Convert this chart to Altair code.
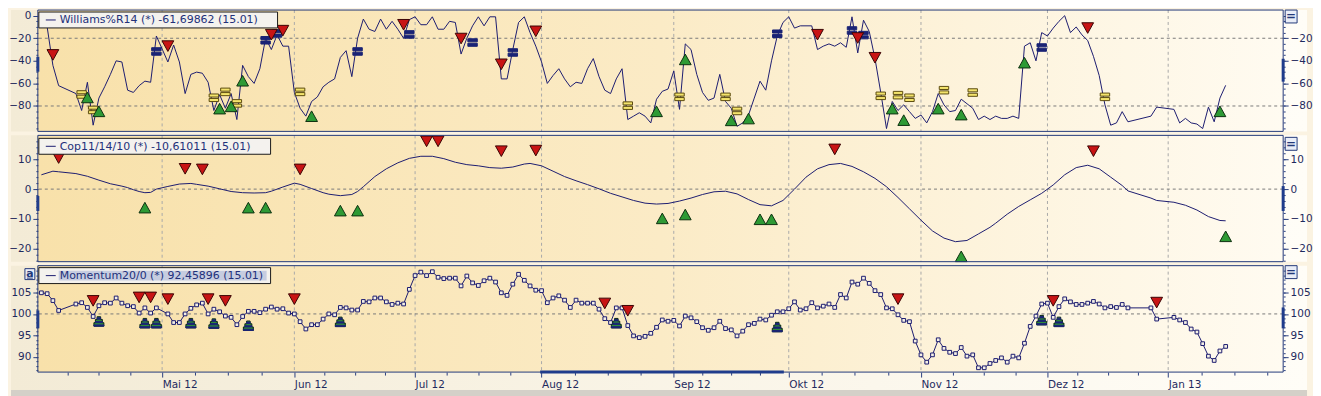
import altair as alt
import numpy as np
import pandas as pd

# ---------------- data ----------------
FIRST_DAY = "2012-04-02"
LAST_DAY = "2013-01-15"
CLOSED_DAYS = ["2012-04-06", "2012-04-09", "2012-05-01", "2012-12-24",
               "2012-12-25", "2012-12-26", "2012-12-31", "2013-01-01"]

# Williams %R 14 (one value per trading day)
williams = [
    -4, -10, -44, -62, -69, -84, -59, -97, -73, -63, -52, -40, -41, -66, -68, -62, -58, -59, -18,
    -41, -26, -41, -69, -52, -50, -51, -59, -84, -70, -82, -69, -92, -44, -54, -60, -47, -20, -30, -17, -27, -27,
    -68, -82, -89, -76, -72, -63, -59, -56, -37, -31, -54, -20, -3, -12, -14, -3, -12, -5, -12, -20, -3.5,
    -1, -8, -8, -1, -12, -12, -5, -6, -34, -20, -9, -1, -9, -1, -1, -56, -56, -30, -6, -1, -15, -27,
    -41, -60, -53, -47, -56, -63, -59, -60, -47, -38, -54, -66, -69, -56, -47, -92, -89, -86, -89, -95, -74, -67, -65,
    -49, -83, -25, -30, -52, -68, -75, -73, -52, -76, -82, -98, -95, -88, -73, -58, -66, -40, -18, -6,
    -1, -11, -9, -9, -9, -30, -27, -25, -27, -24, -28, -1, -33, -4, -14, -38, -68, -100, -76, -84, -79, -85, -91,
    -88, -95, -85, -69, -79, -85, -84, -74, -78, -82, -92, -89, -92, -89, -91, -91, -89, -91, -27, -24, -40, -15,
    -18, -11, -5, 0, -15, -10, -17, -22, -36, -53, -79, -97, -95, -85, -94, -89, -81,
    -83, -95, -91, -95, -96, -100, -81, -94, -73, -61.7,
]

# Momentum 20 (one value per trading day)
momentum = [
    104.9, 104.7, 103.1, 100.8, 102.3, 102.6, 101.5, 99.4, 101.9, 102.6, 102.5, 103.7, 102.5, 101.9, 101.7, 100.2, 101.4, 100.2, 101.4,
    100.0, 98.0, 98.0, 100.0, 101.3, 102.1, 102.5, 100.0, 101.1, 100.5, 99.5, 99.2, 97.5, 99.4, 100.6, 100.6, 100.3, 101.1, 101.6, 101.1, 101.2, 100.2,
    100.0, 98.2, 96.5, 97.5, 97.5, 98.8, 100.0, 99.8, 101.5, 101.4, 100.9, 100.9, 102.9, 102.8, 103.7, 103.7, 102.8, 102.2, 102.5, 102.3, 105.7,
    108.9, 109.7, 108.9, 109.8, 108.5, 108.2, 108.3, 108.3, 106.5, 108.8, 107.2, 106.6, 107.7, 108.3, 107.4, 104.9, 104.3, 106.9, 109.2, 107.8, 106.5, 105.5,
    105.4, 102.6, 103.7, 104.2, 103.2, 101.5, 103.2, 102.5, 102.5, 102.5, 101.1, 98.9, 98.0, 101.4, 101.4, 97.3, 94.9, 94.5, 94.8, 95.5, 96.9, 98.6, 98.3,
    98.5, 97.2, 99.5, 99.1, 98.2, 96.8, 96.2, 96.8, 98.3, 96.6, 96.3, 94.9, 96.0, 97.5, 97.8, 98.8, 98.6, 99.7, 100.5, 100.5,
    101.2, 102.8, 100.9, 101.2, 102.6, 101.4, 101.8, 102.3, 101.5, 104.5, 103.7, 107.4, 106.9, 108.3, 107.1, 105.4, 104.5, 101.4, 101.2, 99.8, 98.5, 98.2, 93.7,
    90.5, 88.8, 90.5, 94.0, 92.0, 91.1, 90.8, 92.2, 90.2, 90.5, 87.5, 87.5, 88.5, 89.2, 89.8, 88.8, 90.2, 89.8, 93.2, 97.1, 99.5, 102.3,
    102.5, 99.2, 101.7, 103.5, 102.8, 102.2, 102.2, 102.5, 102.9, 102.3, 101.4, 101.7, 101.5, 102.2, 101.4, 101.4, 98.8,
    99.2, 98.6, 98.0, 96.5, 95.8, 93.1, 90.2, 89.2, 91.4, 92.46,
]

# Coppock 11/14/10 (weekday number since 2 Apr 2012, value)
cop_day = [0, 2, 3, 6, 8, 10, 12, 14, 15, 16, 17, 18, 19, 20, 22, 24, 26, 27, 29, 31, 33, 35, 37, 39, 40, 42, 44, 45, 47, 49, 50,
           52, 54, 55, 56, 57, 58, 60, 62, 64, 66, 68, 70, 72, 74, 76, 78, 80, 82, 84, 85, 87, 89, 91, 93, 95, 97, 99, 101, 103,
           105, 107, 109, 111, 113, 115, 117, 119, 121, 123, 125, 127, 129, 131, 133, 135, 137, 139, 141, 143, 145, 147, 149,
           151, 153, 155, 157, 159, 161, 163, 165, 166, 168, 170, 172, 174, 176, 178, 180, 182, 184, 186, 188, 189, 193, 194,
           197, 199, 201, 203, 205, 206]
cop_val = [4.8, 6.0, 5.8, 5.2, 4.3, 3.0, 1.8, 1.0, 0.5, -0.2, -0.8, -1.2, -1.1, 0.0, 0.9, 1.7, 1.9, 1.6, 1.0, 0.1, -0.8, -1.2, -1.3, -1.2, -0.7, 0.7, 2.0, 1.6, 0.2, -1.2, -1.7,
           -2.2, -1.8, -0.8, 0.8, 2.5, 4.2, 6.8, 8.8, 10.3, 11.0, 11.0, 10.2, 9.0, 8.2, 7.8, 7.2, 7.0, 7.4, 8.4, 8.6, 7.8, 6.0, 4.2, 2.8, 1.5, 0.1, -1.4, -2.6, -3.8,
           -4.7, -5.0, -4.8, -4.0, -3.0, -1.8, -0.9, -0.7, -1.6, -3.5, -5.2, -5.6, -3.8, 0.0, 4.0, 6.8, 8.2, 8.6, 7.6, 5.8, 3.6, 0.8, -2.8,
           -6.6, -10.4, -14.0, -16.4, -17.6, -17.2, -15.0, -12.8, -11.4, -8.4, -5.8, -3.6, -1.4, 1.4, 4.8, 7.2, 8.0, 6.8, 4.0, 1.2, -0.6, -3.0, -3.8,
           -4.4, -5.4, -7.0, -9.2, -10.5, -10.61]

# signals (weekday number, plotted value)
w_sell_day = [2, 22, 40, 42, 63, 73, 80, 86, 135, 142, 145, 182]
w_sell_val = [-34.5, -26.7, -16.6, -13, -7.8, -20, -42.8, -13.6, -16.6, -19.5, -37, -10.7]
w_buy_day = [8, 10, 31, 33, 35, 47, 107, 112, 120, 123, 148, 150, 156, 160, 171, 205]
w_buy_val = [-72.7, -85, -82.6, -80.6, -57.9, -89.3, -85, -39, -93, -91.4, -82.6, -92.8, -82.6, -87.9, -41.9, -85]
w_blue_day = [20, 39, 41, 55, 64, 75, 82, 128, 141, 143, 174]
w_blue_val = [-31.7, -21.8, -15.7, -31.7, -16.6, -23.8, -32.6, -16, -13.1, -17.2, -28.2]
w_yel_day = [7, 9, 30, 32, 34, 45, 102, 111, 119, 121, 146, 149, 151, 157, 162, 185]
w_yel_val = [-69.8, -83.5, -72.7, -67.5, -77.7, -67.5, -79.7, -71.9, -71.9, -84.4, -71, -70.4, -72.7, -66, -68.1, -71.9]

c_sell_day = [3, 25, 28, 45, 67, 69, 80, 86, 138, 183]
c_sell_val = [10.5, 6.9, 6.7, 6.7, 16.1, 16.1, 12.8, 13, 13.4, 12.8]
c_buy_day = [18, 36, 39, 52, 55, 108, 112, 125, 127, 160, 206]
c_buy_val = [-6.3, -6.3, -6.3, -7.3, -7.3, -9.9, -8.6, -10.2, -10.2, -22.6, -15.9]

m_sell_day = [9, 17, 19, 22, 29, 32, 44, 98, 102, 149, 176, 194]
m_sell_val = [103.1, 103.9, 103.9, 103.5, 103.5, 103.1, 103.5, 102.5, 100.8, 103.5, 103.1, 102.7]
m_buy_day = [10, 18, 20, 26, 30, 36, 52, 100, 128, 174, 177]
m_buy_val = [98.2, 97.8, 97.8, 97.8, 97.7, 97.2, 98.1, 97.8, 96.9, 98.5, 98.1]

month_first = ["2012-04-01", "2012-05-01", "2012-06-01", "2012-07-01", "2012-08-01", "2012-09-01",
               "2012-10-01", "2012-11-01", "2012-12-01", "2013-01-01", "2013-02-01"]
month_label = ["", "Mai 12", "Jun 12", "Jul 12", "Aug 12", "Sep 12", "Okt 12", "Nov 12", "Dez 12", "Jan 13", ""]

legend_w = "Williams%R14 (*) -61,69862 (15.01)"
legend_c = "Cop11/14/10 (*) -10,61011 (15.01)"
legend_m = "Momentum20/0 (*) 92,45896 (15.01)"

# ---------------- helpers ----------------
def weekday_no(dates):
    d = np.array(pd.to_datetime(dates).values, dtype="datetime64[D]")
    return np.busday_count(np.datetime64(FIRST_DAY), d)

days = pd.bdate_range(FIRST_DAY, LAST_DAY)
days = days[~days.isin(pd.to_datetime(CLOSED_DAYS))]
pos = weekday_no(days)
assert len(pos) == len(williams) == len(momentum)

mstart = [int(v) for v in weekday_no(month_first)]
major = mstart[1:-1]
minor = []
for a, b in zip(mstart[:-1], mstart[1:]):
    for k in (1, 2, 3):
        minor.append(a + k * (b - a) / 4)

W = 1252
LEFT = 27
XDOM = [-0.62, 216.0]
FONT = "DejaVu Sans"
FS = 10.5
NAVY = "#1C1C70"
AXC = "#2A3F80"
LAB = "#1E2A5E"
THUMB = "#1F3C8C"
one = pd.DataFrame({"a": [0]})

TRI_DOWN = "M-1,-0.85L1,-0.85L0,0.95Z"
TRI_UP = "M0,-0.95L1,0.85L-1,0.85Z"
EQ = "M-1,-0.8L1,-0.8L1,-0.15L-1,-0.15Z M-1,0.15L1,0.15L1,0.8L-1,0.8Z"
STACK = ("M-0.35,-1L0.35,-1L0.35,-0.45L0.7,-0.45L0.7,0.2L1,0.2L1,0.9L-1,0.9L-1,0.2"
         "L-0.7,0.2L-0.7,-0.45L-0.35,-0.45Z")
STRIPES = "M-0.35,-0.8L0.35,-0.8L0.35,-0.5L-0.35,-0.5Z M-0.7,-0.05L0.7,-0.05L0.7,0.2L-0.7,0.2Z M-1,0.65L1,0.65L1,0.9L-1,0.9Z"


def X(axis=None):
    return alt.X("pos:Q", scale=alt.Scale(domain=XDOM, nice=False, zero=False), axis=axis)


def Y(dom, axis=None):
    return alt.Y("v:Q", scale=alt.Scale(domain=dom, nice=False, zero=False), axis=axis)


def markers(day, val, shape, fill, stroke, size, dom):
    df = pd.DataFrame({"pos": day, "v": val})
    return alt.Chart(df).mark_point(shape=shape, filled=True, fill=fill, stroke=stroke,
                                    strokeWidth=1, size=size, opacity=1).encode(x=X(), y=Y(dom))


def thumb(x0, x1, y0, y1):
    return alt.Chart(one).mark_rule(color=THUMB, strokeWidth=3).encode(
        x=alt.value(x0), x2=alt.value(x1), y=alt.value(y0), y2=alt.value(y1))


def panel(df, dom, H, levels, lmaj, rmaj, mnr, legend_text, legend_w_px, legend_y,
          extra, thumbs, dots=False, xaxis=False, btn_y=1, highlight=False):
    bg_out = alt.Chart(one).mark_rect(
        fill=alt.Gradient(gradient="linear", x1=0, x2=1, y1=0, y2=0,
                          stops=[alt.GradientStop(color="#F3EBD6", offset=0),
                                 alt.GradientStop(color="#FFFDF7", offset=1)])
    ).encode(x=alt.value(-LEFT), x2=alt.value(W + 24), y=alt.value(0),
             y2=alt.value(H + 18 if xaxis else H))
    bg_in = alt.Chart(one).mark_rect(
        fill=alt.Gradient(gradient="linear", x1=0, x2=1, y1=0, y2=0,
                          stops=[alt.GradientStop(color="#F8E1AA", offset=0),
                                 alt.GradientStop(color="#FBEBC6", offset=0.5),
                                 alt.GradientStop(color="#FFFBF1", offset=1)])
    ).encode(x=alt.value(0), x2=alt.value(W), y=alt.value(0), y2=alt.value(H))
    vgrid = alt.Chart(pd.DataFrame({"pos": major})).mark_rule(
        color="#A8A8A8", strokeDash=[3, 3], strokeWidth=1).encode(x=X())
    hgrid = alt.Chart(pd.DataFrame({"v": levels})).mark_rule(
        color="#7A7A7A", strokeDash=[3, 3], strokeWidth=1).encode(y=Y(dom))
    ax_common = dict(grid=False, domain=False, title=None, labelFont=FONT, labelFontSize=FS,
                     labelColor=LAB, tickColor=AXC, zindex=1)
    line = alt.Chart(df).mark_line(color=NAVY, strokeWidth=1).encode(
        x=X(), y=Y(dom, alt.Axis(orient="left", values=lmaj, tickSize=5, labelPadding=2, **ax_common)))
    right = alt.Chart(df).mark_line(opacity=0).encode(
        x=X(), y=Y(dom, alt.Axis(orient="right", values=rmaj, tickSize=5, labelPadding=2, **ax_common)))
    lmin = alt.Chart(df).mark_line(opacity=0).encode(
        x=X(), y=Y(dom, alt.Axis(orient="left", values=mnr, tickSize=2, labels=False, **ax_common)))
    rmin = alt.Chart(df).mark_line(opacity=0).encode(
        x=X(), y=Y(dom, alt.Axis(orient="right", values=mnr, tickSize=2, labels=False, **ax_common)))
    layers = [bg_out, bg_in, vgrid, hgrid, line, right, lmin, rmin]
    if xaxis:
        # grey status strip under the date axis
        layers.append(alt.Chart(one).mark_rect(fill="#D4D0C8").encode(
            x=alt.value(-LEFT), x2=alt.value(W + 24), y=alt.value(H + 18), y2=alt.value(H + 24)))
    if dots:
        layers.append(alt.Chart(df).mark_point(shape="square", size=14, filled=True, fill="#F4F0E6",
                                               stroke=NAVY, strokeWidth=1, opacity=1).encode(x=X(), y=Y(dom)))
    if xaxis:
        xlab = " : ".join(f"round(datum.value)=={m} ? '{l}'" for m, l in zip(mstart, month_label) if l) + " : ''"
        layers.append(alt.Chart(pd.DataFrame({"pos": major, "v": [dom[0]] * len(major)})).mark_point(opacity=0).encode(
            x=X(alt.Axis(orient="bottom", values=major, tickSize=5, labelExpr=xlab, labelAlign="left",
                         labelPadding=2, **ax_common)), y=Y(dom)))
        layers.append(alt.Chart(pd.DataFrame({"pos": minor, "v": [dom[0]] * len(minor)})).mark_point(opacity=0).encode(
            x=X(alt.Axis(orient="bottom", values=minor, tickSize=3, labels=False, **ax_common)), y=Y(dom)))
    layers += extra
    border = alt.Chart(one).mark_rect(filled=False, stroke="#23397A", strokeWidth=1).encode(
        x=alt.value(0), x2=alt.value(W), y=alt.value(0), y2=alt.value(H))
    layers.append(border)
    layers += [thumb(*t) for t in thumbs]
    # legend box
    y0, y1 = legend_y, legend_y + 16
    layers.append(alt.Chart(one).mark_rect(fill="#F4F2EE", stroke="#1A1A1A", strokeWidth=1).encode(
        x=alt.value(1), x2=alt.value(legend_w_px), y=alt.value(y0), y2=alt.value(y1)))
    if highlight:
        layers.append(alt.Chart(one).mark_rect(fill="#C6CCE0").encode(
            x=alt.value(21), x2=alt.value(legend_w_px - 4), y=alt.value(y0 + 3), y2=alt.value(y1 - 3)))
    layers.append(alt.Chart(one).mark_rule(color=NAVY, strokeWidth=1).encode(
        x=alt.value(8), x2=alt.value(18), y=alt.value((y0 + y1) / 2)))
    layers.append(alt.Chart(one).mark_text(align="left", baseline="middle", font=FONT, fontSize=11,
                                           color="#22307A").encode(
        x=alt.value(22), y=alt.value((y0 + y1) / 2 + 0.5), text=alt.value(legend_text)))
    # right "=" button
    layers.append(alt.Chart(one).mark_rect(fill="#E9EDF7", stroke="#23397A", strokeWidth=1).encode(
        x=alt.value(W + 2), x2=alt.value(W + 14), y=alt.value(btn_y), y2=alt.value(btn_y + 13)))
    layers.append(alt.Chart(one).mark_text(font=FONT, fontSize=12, fontWeight="bold", color="#23397A",
                                           baseline="middle").encode(
        x=alt.value(W + 8), y=alt.value(btn_y + 6.5), text=alt.value("=")))
    return alt.layer(*layers).resolve_axis(y="independent", x="independent").properties(width=W, height=H)


# panel 1: Williams
D1 = [-102.5, 5.0]
df_w = pd.DataFrame({"pos": pos, "v": williams})
extra1 = [
    markers(w_yel_day, w_yel_val, EQ, "#F4E46C", "#5C4C10", 90, D1),
    markers(w_blue_day, w_blue_val, EQ, "#1A2375", "#1A2375", 90, D1),
    markers(w_buy_day, w_buy_val, TRI_UP, "#2E9A35", "#0E3010", 140, D1),
    markers(w_sell_day, w_sell_val, TRI_DOWN, "#C81414", "#3A0505", 140, D1),
]
p1 = panel(df_w, D1, 122, [-20, -80], [0, -20, -40, -60, -80], [-20, -40, -60, -80],
           list(range(0, -101, -5)), legend_w, 241, 2, extra1,
           thumbs=[(0, 0, 47, 62), (W, W, 49, 72)], btn_y=0)

# panel 2: Coppock
D2 = [-24.3, 18.0]
df_c = pd.DataFrame({"pos": cop_day, "v": cop_val})
extra2 = [
    markers(c_buy_day, c_buy_val, TRI_UP, "#2E9A35", "#0E3010", 140, D2),
    markers(c_sell_day, c_sell_val, TRI_DOWN, "#C81414", "#3A0505", 140, D2),
]
p2 = panel(df_c, D2, 127, [0], [10, 0, -10, -20], [10, 0, -10, -20],
           list(range(-24, 18, 2)), legend_c, 234, 3, extra2,
           thumbs=[(0, 0, 61, 76), (W, W, 51, 76)], btn_y=2)

# panel 3: Momentum
D3 = [86.5, 111.2]
df_m = pd.DataFrame({"pos": pos, "v": momentum})
extra3 = [
    markers(m_buy_day, m_buy_val, STACK, "#2E8B3A", "#0B2A12", 100, D3),
    markers(m_buy_day, m_buy_val, STRIPES, "#1A2375", "#1A2375", 100, D3),
    markers(m_sell_day, m_sell_val, TRI_DOWN, "#C81414", "#3A0505", 140, D3),
    alt.Chart(one).mark_rect(fill="#E9EDF7", stroke="#23397A", strokeWidth=1).encode(
        x=alt.value(-13), x2=alt.value(-3), y=alt.value(3), y2=alt.value(14)),
    alt.Chart(one).mark_text(font=FONT, fontSize=11, fontWeight="bold", color="#23397A", baseline="middle").encode(
        x=alt.value(-8), y=alt.value(8), text=alt.value("a")),
    alt.Chart(one).mark_rule(color="#23397A", strokeWidth=1).encode(
        x=alt.value(-11), x2=alt.value(-5), y=alt.value(12.5)),
]
p3 = panel(df_m, D3, 107, [100], [105, 100, 95, 90], [105, 100, 95, 90],
           list(range(87, 111, 1)), legend_m, 234, 2, extra3,
           thumbs=[(0, 0, 45, 63), (W, W, 42, 63), (505, 750, 107, 107)],
           dots=True, xaxis=True, btn_y=0, highlight=True)

chart = alt.vconcat(p1, p2, p3, spacing=4, bounds="flush").properties(
    padding=0, background="#FBF3E2"
).configure(padding=0).configure_view(stroke="transparent")

chart.save("out.html", embed_options={"renderer": "svg", "actions": False})
